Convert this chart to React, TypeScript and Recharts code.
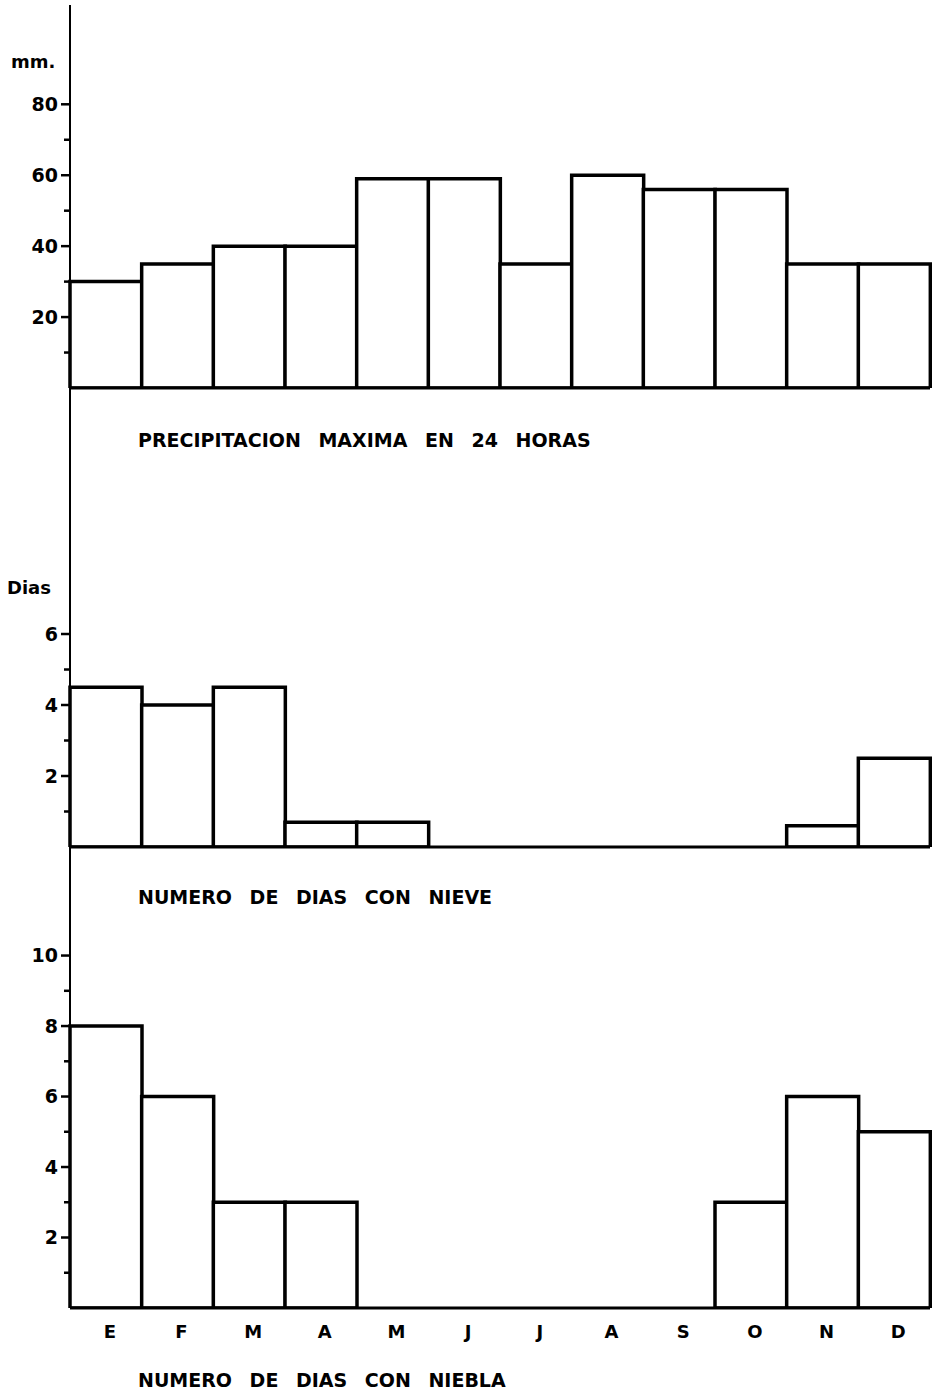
import React from 'react';
import { BarChart, Bar, XAxis, YAxis } from 'recharts';

const months = ['E', 'F', 'M', 'A', 'M', 'J', 'J', 'A', 'S', 'O', 'N', 'D'];
const maxRain24h = [30, 35, 40, 40, 59, 59, 35, 60, 56, 56, 35, 35];
const snowDays = [4.5, 4, 4.5, 0.7, 0.7, 0, 0, 0, 0, 0, 0.6, 2.5];
const fogDays = [8, 6, 3, 3, 0, 0, 0, 0, 0, 3, 6, 5];

const rainTicks = [10, 20, 30, 40, 50, 60, 70, 80];
const rainLabels = [20, 40, 60, 80];
const snowTicks = [1, 2, 3, 4, 5, 6];
const snowLabels = [2, 4, 6];
const fogTicks = [1, 2, 3, 4, 5, 6, 7, 8, 9, 10];
const fogLabels = [2, 4, 6, 8, 10];

const FONT = '"DejaVu Sans", Arial, sans-serif';

const makeData = (values: number[]) => values.map((v, i) => ({ key: i, month: months[i], value: v }));

const YTick = (labels: number[]) => (props: any) => {
  const { x, y, payload } = props;
  const major = labels.includes(payload.value);
  return (
    <g>
      <line x1={x - (major ? 9 : 6)} x2={x} y1={y} y2={y} stroke="#000" strokeWidth={2.5} />
      {major && (
        <text x={x - 12} y={y} dy="0.36em" textAnchor="end" fontFamily={FONT} fontWeight="bold" fontSize={19} fill="#000">
          {payload.value}
        </text>
      )}
    </g>
  );
};

const MonthTick = (props: any) => {
  const { x, y, payload } = props;
  return (
    <text x={x + 4} y={y} dy="0.71em" textAnchor="middle" fontFamily={FONT} fontWeight="bold" fontSize={18} fill="#000">
      {months[payload.value]}
    </text>
  );
};

type PanelProps = {
  values: number[];
  domainMax: number;
  ticks: number[];
  labels: number[];
  top: number;
  height: number;
  marginTop: number;
  bottomSpace: number;
  showMonths?: boolean;
};

const Panel = ({ values, domainMax, ticks, labels, top, height, marginTop, bottomSpace, showMonths }: PanelProps) => (
  <div style={{ position: 'absolute', left: 0, top }}>
    <BarChart
      width={932}
      height={height}
      data={makeData(values)}
      barCategoryGap={0}
      barGap={0}
      margin={{ top: marginTop, right: 2, left: 0, bottom: 0 }}
    >
      <XAxis
        dataKey="key"
        height={bottomSpace}
        axisLine={{ stroke: '#000', strokeWidth: 3 }}
        tickLine={false}
        tick={showMonths ? <MonthTick /> : false}
        tickSize={0}
        tickMargin={17}
        interval={0}
      />
      <YAxis
        type="number"
        domain={[0, domainMax]}
        ticks={ticks}
        width={70}
        axisLine={{ stroke: '#000', strokeWidth: 2 }}
        tickLine={false}
        tickSize={0}
        tickMargin={0}
        tick={YTick(labels)}
        interval={0}
        allowDataOverflow
      />
      <Bar dataKey="value" fill="#fff" stroke="#000" strokeWidth={3.5} isAnimationActive={false} />
    </BarChart>
  </div>
);

const titleStyle: React.CSSProperties = {
  position: 'absolute',
  left: 138,
  fontFamily: FONT,
  fontWeight: 'bold',
  fontSize: 19,
  wordSpacing: 11,
  color: '#000',
  whiteSpace: 'nowrap',
  lineHeight: 1,
};

const unitStyle: React.CSSProperties = {
  position: 'absolute',
  fontFamily: FONT,
  fontWeight: 'bold',
  fontSize: 18,
  color: '#000',
  lineHeight: 1,
};

export default function App() {
  return (
    <div style={{ position: 'absolute', left: 0, top: 0, width: 932, height: 1395, background: '#fff', overflow: 'hidden' }}>
      <Panel values={maxRain24h} domainMax={108} ticks={rainTicks} labels={rainLabels} top={0} height={420} marginTop={5} bottomSpace={32} />
      <Panel values={snowDays} domainMax={12.93} ticks={snowTicks} labels={snowLabels} top={380} height={500} marginTop={8} bottomSpace={33} />
      <Panel values={fogDays} domainMax={13.08} ticks={fogTicks} labels={fogLabels} top={839} height={521} marginTop={8} bottomSpace={52} showMonths />
      <div style={{ ...unitStyle, left: 11, top: 53 }}>mm.</div>
      <div style={{ ...unitStyle, left: 7, top: 579 }}>Dias</div>
      <div style={{ ...titleStyle, top: 431 }}>PRECIPITACION MAXIMA EN 24 HORAS</div>
      <div style={{ ...titleStyle, top: 888 }}>NUMERO DE DIAS CON NIEVE</div>
      <div style={{ ...titleStyle, top: 1371 }}>NUMERO DE DIAS CON NIEBLA</div>
    </div>
  );
}
